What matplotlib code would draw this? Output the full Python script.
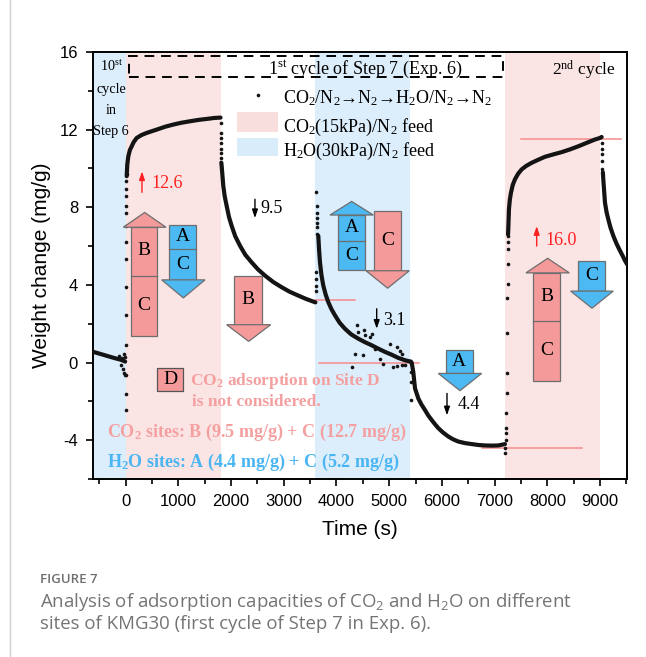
import matplotlib
matplotlib.use("Agg")
import matplotlib.pyplot as plt
from matplotlib.patches import Rectangle, Polygon
from matplotlib.lines import Line2D

plt.rcParams["axes.unicode_minus"] = False
plt.rcParams["mathtext.fontset"] = "custom"
plt.rcParams["mathtext.rm"] = "Liberation Serif"
plt.rcParams["mathtext.default"] = "regular"

SERIF = ["Liberation Serif", "DejaVu Serif"]
SANS = ["Liberation Sans", "DejaVu Sans"]
CAP = ["Open Sans", "DejaVu Sans"]

# ---------------- data: weight change (mg/g) vs time (s) ----------------
# end of the 10th cycle of step 6 (H2O/N2 feed)
pre_t = [-615, -500, -400, -300, -200, -100, -50, -10]
pre_w = [0.55, 0.46, 0.38, 0.30, 0.22, 0.15, 0.10, 0.05]
pre_scatter_t = [-120, -90, -70, -50, -40, -25, -15, -8]
pre_scatter_w = [0.35, -0.15, 0.25, -0.35, 0.45, -0.55, -0.65, 0.3]

# CO2/N2 feed, cycle 1
jump1_t = [2, 3, 4, 5, 6, 7, 8, 9, 10, 11, 12, 13, 14, 15, 16]
jump1_w = [-2.45, -1.6, -0.65, 0.89, 2.43, 3.88, 5.33, 6.19, 7.04,
           7.73, 8.07, 8.58, 8.92, 9.35, 9.69]
co2a_t = [19, 30, 50, 80, 114, 150, 209, 300, 398, 588, 750, 903,
          1050, 1220, 1380, 1537, 1680, 1800]
co2a_w = [9.6, 10.2, 10.63, 10.95, 11.14, 11.35, 11.57, 11.72, 11.83,
          12.0, 12.15, 12.26, 12.35, 12.43, 12.5, 12.55, 12.6, 12.62]

# N2 purge after CO2
drop1_t = [1803, 1804, 1805, 1806, 1807, 1808, 1809]
drop1_w = [12.34, 11.83, 11.57, 11.3, 11.0, 10.8, 10.55]
n2a_t = [1815, 1822, 1852, 1880, 1916, 1960, 2011, 2080, 2169, 2270,
         2391, 2510, 2643, 2800, 2960, 3110, 3275, 3420, 3560, 3600]
n2a_w = [10.3, 10.1, 9.1, 8.55, 8.07, 7.5, 7.04, 6.5, 6.02, 5.55,
         5.16, 4.8, 4.48, 4.15, 3.88, 3.65, 3.45, 3.28, 3.14, 3.1]

# H2O/N2 feed
jump2_t = [3605, 3608, 3610, 3612, 3620, 3622, 3624, 3626, 3628, 3630, 3632]
jump2_w = [3.7, 3.96, 4.3, 4.65, 8.78, 8.07, 7.73, 7.47, 7.2, 6.96, 6.6]
h2o_t = [3655, 3670, 3687, 3715, 3750, 3795, 3845, 3905, 3972, 4060,
         4161, 4280, 4414, 4540, 4668, 4790, 4920, 5050, 5173, 5300, 5400]
h2o_w = [6.53, 5.8, 5.16, 4.5, 3.96, 3.5, 3.11, 2.75, 2.43, 2.05,
         1.74, 1.45, 1.23, 1.05, 0.89, 0.72, 0.55, 0.4, 0.24, 0.12, 0.05]
h2o_scatter_t = [4383, 4414, 4528, 4541, 4636, 4668, 4351, 4509, 4288,
                 5015, 5142, 5205, 5237, 4826, 5078, 5142, 5300, 4731,
                 4888, 5237]
h2o_scatter_w = [1.91, 1.57, 1.66, 1.44, 1.32, 1.49, 0.46, 0.37, -0.25,
                 0.95, 0.8, 0.58, 0.46, 0.2, -0.22, -0.2, -0.14, 0.72,
                 -0.05, -0.14]

# N2 purge after H2O
drop3_t = [5414, 5416, 5418]
drop3_w = [-0.48, -0.99, -1.93]
n2b_t = [5410, 5427, 5457, 5490, 5553, 5610, 5680, 5740, 5806, 5870, 5933,
         6020, 6122, 6210, 6312, 6440, 6565, 6700, 6818, 6950, 7071, 7197]
n2b_w = [0.05, 0.0, -0.48, -1.33, -1.85, -2.15, -2.45, -2.72, -2.96, -3.18,
         -3.38, -3.6, -3.81, -3.95, -4.07, -4.15, -4.2, -4.25, -4.27, -4.28,
         -4.27, -4.2]

# CO2/N2 feed, cycle 2
jump4_t = [7205, 7207, 7210, 7212, 7215, 7220, 7228, 7236, 7240, 7244,
           7246, 7248, 7250, 7252, 7254]
jump4_w = [-4.67, -4.41, -4.0, -3.64, -3.38, -2.62, -1.59, -0.52, 1.5,
           3.3, 4.05, 5.08, 5.85, 6.22, 6.53]
co2b_t = [7255, 7260, 7273, 7290, 7311, 7345, 7387, 7445, 7514, 7600, 7704,
          7830, 7956, 8110, 8273, 8430, 8588, 8750, 8905, 9000, 9032]
co2b_w = [6.6, 6.87, 7.9, 8.4, 8.75, 9.15, 9.44, 9.72, 9.95, 10.13, 10.29,
          10.45, 10.6, 10.72, 10.84, 10.98, 11.14, 11.32, 11.49, 11.57, 11.62]

drop5_t = [9040, 9042, 9044, 9046, 9048]
drop5_w = [11.3, 11.0, 10.72, 10.37, 9.95]
n2c_t = [9055, 9063, 9095, 9125, 9158, 9200, 9253, 9315, 9380, 9430, 9475, 9518]
n2c_w = [9.8, 9.44, 8.24, 7.75, 7.38, 6.95, 6.53, 6.12, 5.76, 5.5, 5.25, 5.05]

# feed periods
co2_periods = [(0, 1800), (7200, 9000)]
h2o_periods = [(-615, 0), (3600, 5400)]

# reference levels (mg/g)
ref_levels = [3.2, 0.0, -4.4, 11.5]

# capacity changes (mg/g)
rise1, drop_b, drop_h2o, drop_a, rise2 = 12.6, 9.5, 3.1, 4.4, 16.0

# ---------------- style ----------------
PINK_BG = "#fbe4e4"
BLUE_BG = "#dcedfb"
PINK = "#f59a9a"
BLUE = "#4cb9f2"
PINK_TXT = "#f5a0a0"
BLUE_TXT = "#49b5f2"
RED = "#ff2020"
REF = "#f58c8c"
EDGE = "#6e6e6e"
DOT = "#141414"

fig = plt.figure(figsize=(6.46, 6.57), dpi=100)
ax = fig.add_axes([0.1444, 0.2709, 0.8266, 0.6500])
ax.set_xlim(-615, 9518)
ax.set_ylim(-6, 16)

for a, b in co2_periods:
    ax.axvspan(a, b, color=PINK_BG, lw=0, zorder=0)
for a, b in h2o_periods:
    ax.axvspan(a, b, color=BLUE_BG, lw=0, zorder=0)

# reference lines
ref_spans = [(3594, 4353), (3674, 5571), (6755, 8653), (7501, 9398)]
for lvl, (a, b) in zip(ref_levels, ref_spans):
    ax.plot([a, b], [lvl, lvl], color=REF, lw=1.1, zorder=2)

# measured trace
for t, w in [(pre_t, pre_w), (co2a_t, co2a_w), (n2a_t, n2a_w),
             (h2o_t, h2o_w), (n2b_t, n2b_w), (co2b_t, co2b_w), (n2c_t, n2c_w)]:
    ax.plot(t, w, color=DOT, lw=3.0, solid_capstyle="round",
            solid_joinstyle="round", zorder=3)
for t, w in [(pre_scatter_t, pre_scatter_w), (jump1_t, jump1_w),
             (drop1_t, drop1_w), (jump2_t, jump2_w),
             (h2o_scatter_t, h2o_scatter_w), (drop3_t, drop3_w),
             (jump4_t, jump4_w), (drop5_t, drop5_w)]:
    ax.plot(t, w, ls="none", marker="o", ms=2.6, mfc=DOT, mec="none", zorder=3)


# site arrows: body from the tail to the head base, then a triangular head
def site_arrow(x0, x1, y_tail, y_base, y_apex, hx0, hx1, color, labels, dividers=()):
    lo, hi = min(y_tail, y_base), max(y_tail, y_base)
    ax.add_patch(Rectangle((x0, lo), x1 - x0, hi - lo, fc=color, ec=EDGE,
                           lw=0.9, zorder=4))
    for d in dividers:
        ax.plot([x0, x1], [d, d], color=EDGE, lw=0.9, zorder=5)
    ax.add_patch(Polygon([(hx0, y_base), (hx1, y_base), ((hx0 + hx1) / 2, y_apex)],
                         closed=True, fc=color, ec=EDGE, lw=0.9, zorder=4))
    for text, yc in labels:
        ax.text((x0 + x1) / 2, yc, text, ha="center", va="center",
                fontsize=14, family=SERIF, color="black", zorder=6)


site_arrow(95, 600, 1.38, 6.97, 7.73, -45, 765, PINK,
           [("B", 5.75), ("C", 2.95)], dividers=[4.48])
site_arrow(827, 1334, 7.08, 4.26, 3.33, 683, 1505, BLUE,
           [("A", 6.5), ("C", 5.05)], dividers=[5.85])
site_arrow(2061, 2580, 4.48, 1.95, 1.09, 1916, 2751, PINK, [("B", 3.25)])
site_arrow(4034, 4541, 4.77, 7.6, 8.3, 3877, 4699, BLUE,
           [("A", 6.95), ("C", 5.5)], dividers=[6.27])
site_arrow(4717, 5218, 7.81, 4.73, 3.83, 4560, 5381, PINK, [("C", 6.3)])
site_arrow(6078, 6584, 0.63, -0.56, -1.45, 5932, 6755, BLUE, [("A", 0.05)])
site_arrow(7735, 8241, -0.96, 4.62, 5.37, 7596, 8418, PINK,
           [("B", 3.4), ("C", 0.6)], dividers=[2.14])
site_arrow(8588, 9095, 5.25, 3.68, 2.8, 8444, 9252, BLUE, [("C", 4.5)])

# site D box
ax.add_patch(Rectangle((588, -1.47), 505, 1.2, fc=PINK, ec="#555555", lw=0.9, zorder=4))
ax.text(840, -0.87, "D", ha="center", va="center", fontsize=14, family=SERIF, zorder=6)
ax.text(1220, -1.16, "CO$_2$ adsorption on Site D", fontsize=12.5, family=SERIF,
        weight="bold", color=PINK_TXT, va="baseline", zorder=6)
ax.text(1258, -2.24, "is not considered.", fontsize=12.5, family=SERIF,
        weight="bold", color=PINK_TXT, va="baseline", zorder=6)
ax.text(-360, -3.81, "CO$_2$ sites: B (9.5 mg/g) + C (12.7 mg/g)", fontsize=13,
        family=SERIF, weight="bold", color=PINK_TXT, va="baseline", zorder=6)
ax.text(-360, -5.4, "H$_2$O sites: A (4.4 mg/g) + C (5.2 mg/g)", fontsize=13,
        family=SERIF, weight="bold", color=BLUE_TXT, va="baseline", zorder=6)


# change annotations
def change(x, y_tail, y_head, value, tx, ty, color):
    ax.annotate("", xy=(x, y_head), xytext=(x, y_tail),
                arrowprops=dict(arrowstyle="-|>,head_length=0.5,head_width=0.17",
                                color=color, lw=1.0, shrinkA=0, shrinkB=0), zorder=6)
    ax.text(tx, ty, f"{value:.1f}", fontsize=13, family=SERIF, color=color,
            va="baseline", zorder=6)


change(309, 8.77, 9.85, rise1, 493, 8.97, RED)
change(2453, 8.41, 7.44, drop_b, 2548, 7.68, "black")
change(4763, 2.77, 1.74, drop_h2o, 4882, 1.95, "black")
change(6097, -1.59, -2.72, drop_a, 6306, -2.39, "black")
change(7799, 6.0, 7.03, rise2, 7967, 6.07, RED)

# cycle labels
ax.add_patch(Rectangle((63, 14.7), 7102, 1.11, fill=False, ec="black", lw=1.4,
                       ls=(0, (5, 3.5)), zorder=5))
ax.text(4550, 14.85, "1$^{st}$ cycle of Step 7 (Exp. 6)", ha="center",
        va="baseline", fontsize=13, family=SERIF, zorder=6)
ax.text(8697, 14.8, "2$^{nd}$ cycle", ha="center", va="baseline", fontsize=12.5,
        family=SERIF, zorder=6)
for txt, yb in [("10$^{st}$", 15.0), ("cycle", 13.88), ("in", 12.82), ("Step 6", 11.74)]:
    ax.text(-279, yb, txt, ha="center", va="baseline", fontsize=10.2,
            family=SERIF, zorder=6)

# key
ax.plot([2505], [13.8], ls="none", marker="o", ms=2.6, mfc=DOT, mec="none")
ax.text(2979, 13.38, "CO$_2$/N$_2$→N$_2$→H$_2$O/N$_2$→N$_2$", fontsize=13,
        family=SERIF, va="baseline")
ax.add_patch(Rectangle((2115, 11.9), 775, 1.02, fc="#f9dede", ec="none", zorder=1))
ax.text(2979, 11.9, "CO$_2$(15kPa)/N$_2$ feed", fontsize=13, family=SERIF, va="baseline")
ax.add_patch(Rectangle((2115, 10.62), 775, 0.97, fc="#d8ecfa", ec="none", zorder=1))
ax.text(2979, 10.63, "H$_2$O(30kPa)/N$_2$ feed", fontsize=13, family=SERIF, va="baseline")

# axes styling
ax.set_xticks(range(0, 9001, 1000))
ax.set_xticks(range(-500, 9501, 1000), minor=True)
ax.set_yticks(range(-4, 17, 4))
ax.set_yticks(range(-6, 15, 4), minor=True)
ax.tick_params(which="both", direction="out", width=1.2, labelsize=12,
               top=False, right=False)
ax.tick_params(which="major", length=5, pad=6)
ax.tick_params(which="minor", length=3.5)
for lab in ax.get_xticklabels() + ax.get_yticklabels():
    lab.set_family(SANS)
for s in ax.spines.values():
    s.set_linewidth(1.4)
ax.set_xlabel("Time (s)", fontsize=15, family=SANS, labelpad=8)
ax.set_ylabel("Weight change (mg/g)", fontsize=15, family=SANS, labelpad=6)

# caption
fig.add_artist(Line2D([10 / 646] * 2, [0, 1], color="#d0d0d0", lw=1.0))
fig.text(40 / 646, 1 - 583 / 657, "FIGURE 7", fontsize=9.5, family=CAP,
         weight="semibold", color="#6e6e6e")
fig.text(40 / 646, 1 - 607 / 657,
         "Analysis of adsorption capacities of CO$_2$ and H$_2$O on different",
         fontsize=13.4, family=CAP, color="#747474")
fig.text(40 / 646, 1 - 629 / 657,
         "sites of KMG30 (first cycle of Step 7 in Exp. 6).",
         fontsize=13.4, family=CAP, color="#747474")

fig.savefig("out.png", dpi=100)
